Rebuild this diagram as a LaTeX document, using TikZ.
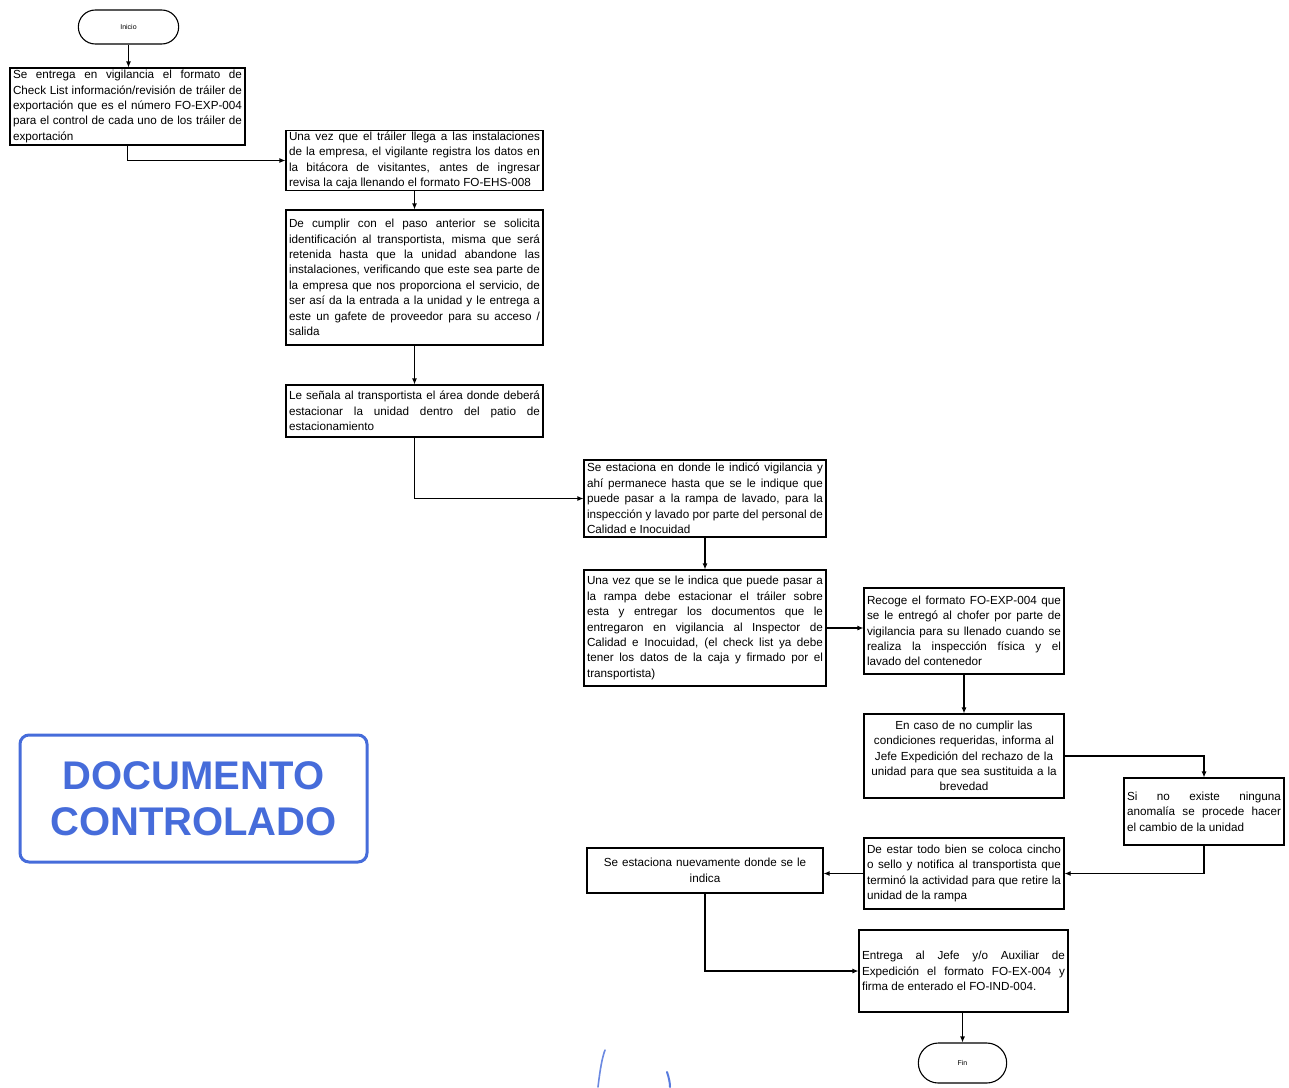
\documentclass[tikz,border=0pt]{standalone}
\usepackage{fontspec}
\setmainfont{Liberation Sans}
\usetikzlibrary{arrows.meta,shapes.misc}
\definecolor{stampblue}{RGB}{70,108,218}
\newcommand{\nohyph}{\hyphenpenalty=10000\exhyphenpenalty=10000\emergencystretch=4em\tolerance=9999\hbadness=10000}
\newcommand{\lb}{\linebreak}
\tikzset{
  box/.style={draw=black, line width=1.1pt, rectangle, inner xsep=3pt, inner ysep=1pt,
    font=\fontsize{11.7}{15.4}\selectfont\nohyph, align=justify},
  cbox/.style={box, align=center},
  term/.style={draw=black, line width=1.1pt, rounded rectangle, font=\fontsize{7}{8}\selectfont},
  conn/.style={line width=1.1pt, -{Latex[length=6pt,width=5pt]}},
  stampbox/.style={draw=stampblue, line width=3pt, rounded corners=9pt, text=stampblue,
    font=\fontsize{40}{46}\selectfont\bfseries, align=center, inner sep=0pt},
}
\begin{document}
\begin{tikzpicture}[x=1pt,y=-1pt]
\useasboundingbox (0,0) rectangle (1289,1087);

\node[term, minimum width=107pt, minimum height=34pt] (ini) at (128.5,27) {Inicio};

\node[box, text width=229pt, minimum height=77pt] (b2) at (127.5,106.5)
{Se entrega en vigilancia el formato de\lb{} Check List información/revisión de tráiler de\lb{} exportación que es el número FO-EXP-004\lb{} para el control de cada uno de los tráiler de\lb{} exportación};

\node[box, text width=251pt, minimum height=59pt] (b3) at (414.5,160.5)
{Una vez que el tráiler llega a las instalaciones\lb{} de la empresa, el vigilante registra los datos en\lb{} la bitácora de visitantes, antes de ingresar\lb{} revisa la caja llenando el formato FO-EHS-008};

\node[box, text width=251pt, minimum height=135pt] (b4) at (414.5,277.5)
{De cumplir con el paso anterior se solicita\lb{} identificación al transportista, misma que será\lb{} retenida hasta que la unidad abandone las\lb{} instalaciones, verificando que este sea parte de\lb{} la empresa que nos proporciona el servicio, de\lb{} ser así da la entrada a la unidad y le entrega a\lb{} este un gafete de proveedor para su acceso /\lb{} salida};

\node[box, text width=251pt, minimum height=52pt] (b5) at (414.5,411)
{Le señala al transportista el área donde deberá\lb{} estacionar la unidad dentro del patio de\lb{} estacionamiento};

\node[box, text width=236pt, minimum height=77pt] (b6) at (705,498.5)
{Se estaciona en donde le indicó vigilancia y\lb{} ahí permanece hasta que se le indique que\lb{} puede pasar a la rampa de lavado, para la\lb{} inspección y lavado por parte del personal de\lb{} Calidad e Inocuidad};

\node[box, text width=236pt, minimum height=116pt] (b7) at (705,628)
{Una vez que se le indica que puede pasar a\lb{} la rampa debe estacionar el tráiler sobre\lb{} esta y entregar los documentos que le\lb{} entregaron en vigilancia al Inspector de\lb{} Calidad e Inocuidad, (el check list ya debe\lb{} tener los datos de la caja y firmado por el\lb{} transportista)};

\node[box, text width=194pt, minimum height=86pt] (b8) at (964,631)
{Recoge el formato FO-EXP-004 que\lb{} se le entregó al chofer por parte de\lb{} vigilancia para su llenado cuando se\lb{} realiza la inspección física y el\lb{} lavado del contenedor};

\node[cbox, text width=194pt, minimum height=84pt] (b9) at (964,756)
{En caso de no cumplir las\\condiciones requeridas, informa al\\Jefe Expedición del rechazo de la\\unidad para que sea sustituida a la\\brevedad};

\node[box, text width=154pt, minimum height=67pt] (b10) at (1204,811.5)
{Si no existe ninguna\lb{} anomalía se procede hacer\lb{} el cambio de la unidad};

\node[box, text width=194pt, minimum height=71pt] (b11) at (964,873.5)
{De estar todo bien se coloca cincho\lb{} o sello y notifica al transportista que\lb{} terminó la actividad para que retire la\lb{} unidad de la rampa};

\node[cbox, text width=230pt, minimum height=45pt] (b12) at (705,870.5)
{Se estaciona nuevamente donde se le\\indica};

\node[box, text width=203pt, minimum height=82pt] (b13) at (963.5,971)
{Entrega al Jefe y/o Auxiliar de\lb{} Expedición el formato FO-EX-004 y\lb{} firma de enterado el FO-IND-004.};

\node[term, minimum width=95pt, minimum height=40pt] (fin) at (962.5,1063) {Fin};

% connectors
\draw[conn] (ini.south) -- (ini.south |- b2.north);
\draw[conn] (b2.south) |- (b3.west);
\draw[conn] (b3) -- (b4);
\draw[conn] (b4) -- (b5);
\draw[conn] (b5.south) |- (b6.west);
\draw[conn] (b6) -- (b7);
\draw[conn] (b7.east) -- (b7.east -| b8.west);
\draw[conn] (b8) -- (b9);
\draw[conn] (b9.east) -| (b10.north);
\draw[conn] (b10.south) |- (b11.east);
\draw[conn] (b11.west) -- (b11.west -| b12.east);
\draw[conn] (b12.south) |- (b13.west);
\draw[conn] (b13.south -| fin.north) -- (fin.north);

% stamp
\node[stampbox, minimum width=347pt, minimum height=127pt] (stamp) at (193.5,798.5)
{DOCUMENTO\\CONTROLADO};

% signature strokes
\draw[stampblue!80, line width=1.6pt, line cap=round] (598,1087) .. controls (600,1070) and (602,1058) .. (605,1050);
\draw[stampblue!90, line width=2pt, line cap=round] (667,1072) .. controls (669,1078) and (670,1083) .. (670,1087);
\end{tikzpicture}
\end{document}
